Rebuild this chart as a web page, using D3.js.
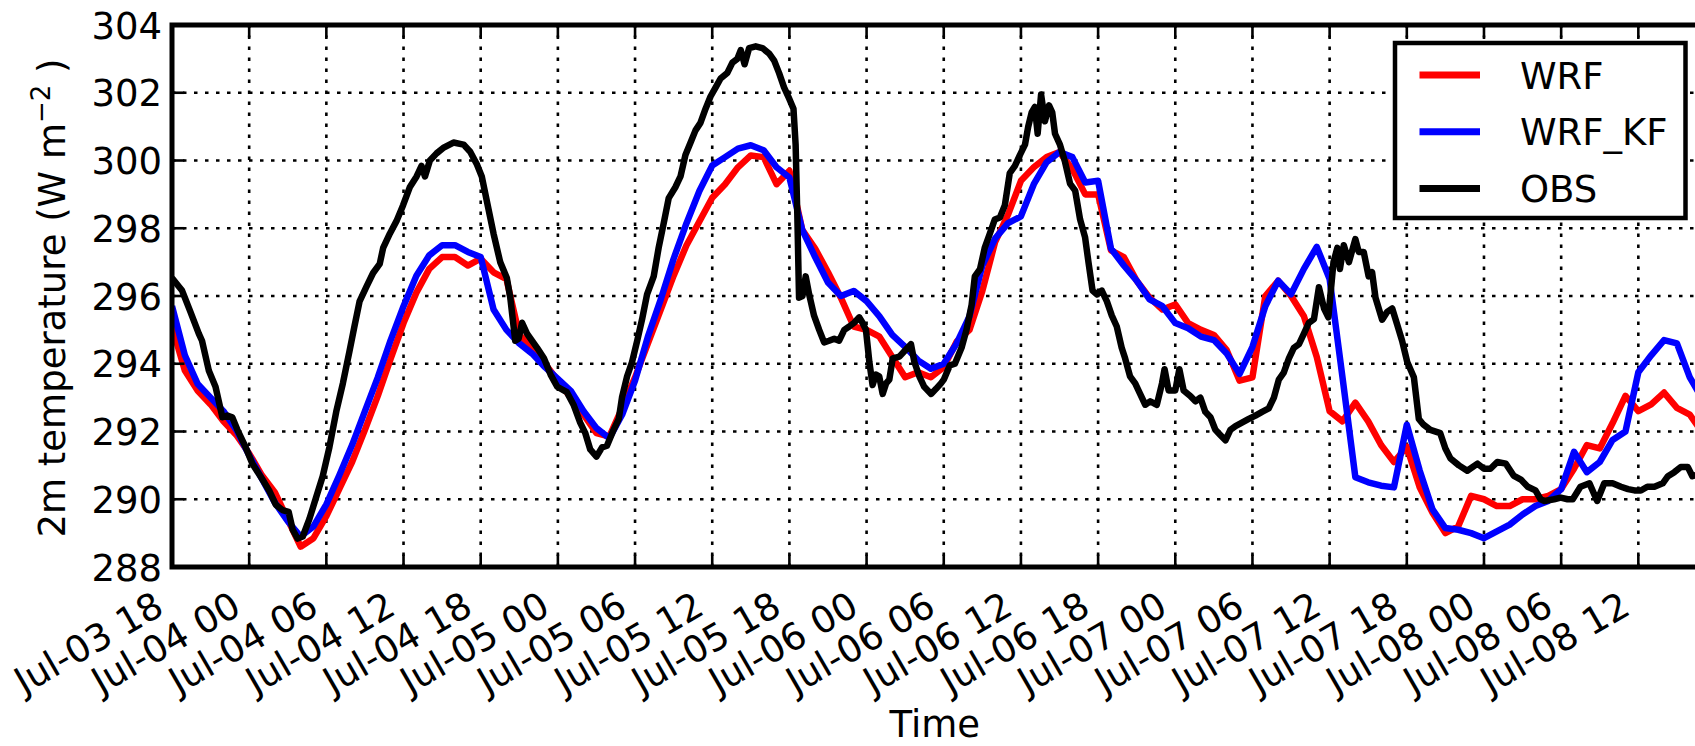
<!DOCTYPE html>
<html>
<head>
<meta charset="utf-8">
<script src="https://cdn.jsdelivr.net/npm/d3@7"></script>
<style>
  body { margin: 0; background: #fff; }
  svg { display: block; }
  text { font-family: 'DejaVu Sans', sans-serif; fill: #000; }
</style>
</head>
<body>
<div id="chart"></div>
<script>
// hourly model output, first value at Jul-03 18:00
var wrf = [
  295.1, 293.8, 293.2, 292.8, 292.3, 291.9, 291.35, 290.7, 290.2, 289.4,
  288.6, 288.85, 289.5, 290.3, 291.1, 292.05, 293.05, 294.15, 295.2, 296.1,
  296.8, 297.15, 297.15, 296.9, 297.1, 296.7, 296.5, 294.85, 294.5, 294.0,
  293.5, 293.0, 292.5, 291.95, 291.85, 292.7, 293.6, 294.6, 295.6, 296.6,
  297.5, 298.2, 298.9, 299.3, 299.8, 300.15, 300.1, 299.3, 299.7, 297.95,
  297.4, 296.7, 295.95, 295.1, 295.0, 294.8, 294.2, 293.6, 293.75, 293.6,
  293.9, 294.65, 295.0, 296.15, 297.6, 298.4, 299.4, 299.8, 300.1, 300.25,
  299.75, 299.0, 299.0, 297.35, 297.15, 296.45, 295.95, 295.6, 295.75, 295.2,
  295.0, 294.85, 294.4, 293.5, 293.6, 296.0, 296.45, 296.0, 295.4, 294.2,
  292.6, 292.3, 292.85, 292.3, 291.6, 291.1, 291.55, 290.35, 289.6, 289.0,
  289.2, 290.1, 290.0, 289.8, 289.8, 290.0, 290.0, 290.1, 290.3, 290.9,
  291.6, 291.5, 292.25, 293.05, 292.6, 292.8, 293.15, 292.7, 292.5, 291.95
];

var wrfKf = [
  295.7, 294.25, 293.4, 293.0, 292.6, 292.05, 291.3, 290.6, 289.9, 289.35,
  288.9, 289.2, 289.85, 290.7, 291.6, 292.6, 293.6, 294.7, 295.7, 296.6,
  297.2, 297.5, 297.5, 297.3, 297.15, 295.6, 295.0, 294.6, 294.3, 293.9,
  293.55, 293.2, 292.6, 292.1, 291.8, 292.5, 293.5, 294.8, 295.9, 297.1,
  298.15, 299.1, 299.85, 300.1, 300.35, 300.45, 300.3, 299.8, 299.5, 297.95,
  297.15, 296.4, 296.0, 296.15, 295.85, 295.4, 294.85, 294.5, 294.1, 293.85,
  294.0, 294.6, 295.4, 296.9, 297.7, 298.15, 298.35, 299.3, 299.95, 300.25,
  300.1, 299.35, 299.4, 297.4, 296.9, 296.45, 295.9, 295.7, 295.2, 295.05,
  294.8, 294.7, 294.3, 293.7, 294.5, 295.7, 296.45, 296.05, 296.8, 297.45,
  296.5, 293.6, 290.65, 290.5, 290.4, 290.35, 292.2, 290.85, 289.7, 289.15,
  289.1, 289.0, 288.85, 289.05, 289.25, 289.55, 289.8, 289.95, 290.3, 291.4,
  290.8, 291.1, 291.75, 292.0, 293.75, 294.25, 294.7, 294.6, 293.6, 292.95
];

// station record, [hours since Jul-03 18:00, value]
var obs = [
  [0, 296.53], [0.78, 296.16], [1.43, 295.53], [2.08, 294.89], [2.34, 294.68],
  [2.86, 293.79], [3.39, 293.32], [3.91, 292.42], [4.3, 292.47], [4.69, 292.42],
  [5.08, 292.05], [5.73, 291.53], [6.25, 291.05], [7.03, 290.58], [7.55, 290.26],
  [8.07, 289.84], [8.59, 289.68], [9.06, 289.63], [9.38, 289.1], [9.77, 288.84],
  [10.16, 288.9], [10.68, 289.42], [11.2, 290.05], [11.72, 290.68], [12.24, 291.53],
  [12.76, 292.58], [13.28, 293.42], [13.8, 294.37], [14.19, 295.1], [14.58, 295.84],
  [15.1, 296.26], [15.63, 296.68], [16.15, 296.95], [16.41, 297.42], [16.93, 297.84],
  [17.45, 298.21], [17.97, 298.68], [18.49, 299.21], [19.01, 299.53], [19.4, 299.84],
  [19.66, 299.53], [20.05, 300.0], [20.57, 300.21], [21.09, 300.37], [21.88, 300.53],
  [22.66, 300.47], [23.18, 300.26], [23.7, 299.89], [24.09, 299.53], [24.48, 298.79],
  [25.0, 297.84], [25.52, 297.0], [26.04, 296.53], [26.3, 295.95], [26.69, 294.68],
  [26.95, 294.74], [27.21, 295.21], [27.6, 294.89], [27.99, 294.68], [28.39, 294.47],
  [28.91, 294.16], [29.43, 293.68], [29.95, 293.32], [30.7, 293.16], [31.22, 292.79],
  [31.74, 292.26], [32.13, 291.95], [32.52, 291.47], [33.0, 291.26], [33.43, 291.53],
  [33.82, 291.58], [34.34, 292.05], [34.73, 292.37], [34.99, 293.0], [35.38, 293.63],
  [35.77, 294.05], [36.16, 294.68], [36.55, 295.32], [36.94, 296.05], [37.45, 296.58],
  [37.84, 297.42], [38.23, 298.16], [38.62, 298.89], [39.14, 299.21], [39.53, 299.53],
  [39.92, 300.16], [40.31, 300.53], [40.7, 300.89], [41.09, 301.11], [41.48, 301.53],
  [41.87, 301.89], [42.26, 302.16], [42.65, 302.42], [43.17, 302.58], [43.56, 302.89],
  [43.95, 303.0], [44.21, 303.26], [44.52, 302.84], [44.86, 303.32], [45.38, 303.37],
  [45.9, 303.32], [46.42, 303.16], [46.81, 302.95], [47.2, 302.58], [47.58, 302.16],
  [47.97, 301.84], [48.31, 301.53], [48.49, 300.47], [48.62, 298.37], [48.75, 295.95],
  [49.01, 296.0], [49.27, 296.58], [49.53, 296.05], [49.92, 295.42], [50.31, 295.0],
  [50.7, 294.63], [51.09, 294.68], [51.48, 294.74], [51.87, 294.68], [52.26, 295.0],
  [52.65, 295.1], [53.04, 295.21], [53.43, 295.37], [53.69, 295.21], [53.95, 295.0],
  [54.21, 294.05], [54.47, 293.37], [54.73, 293.68], [54.99, 293.63], [55.25, 293.11],
  [55.51, 293.42], [55.77, 293.53], [56.03, 294.16], [56.55, 294.21], [56.94, 294.37],
  [57.45, 294.58], [57.71, 294.05], [58.1, 293.63], [58.49, 293.32], [59.01, 293.11],
  [59.4, 293.26], [59.79, 293.42], [60.0, 293.53], [60.47, 293.95], [60.86, 294.0],
  [61.38, 294.47], [61.77, 295.0], [62.16, 295.74], [62.42, 296.58], [62.81, 296.79],
  [63.19, 297.42], [63.58, 297.84], [63.97, 298.26], [64.36, 298.32], [64.75, 298.68],
  [65.14, 299.63], [65.53, 299.84], [65.92, 300.16], [66.31, 300.47], [66.57, 301.0],
  [66.83, 301.42], [67.09, 301.58], [67.3, 300.79], [67.56, 301.95], [67.87, 301.16],
  [68.18, 301.63], [68.44, 301.42], [68.65, 300.79], [69.04, 300.47], [69.43, 299.95],
  [69.82, 299.32], [70.21, 299.11], [70.6, 298.26], [70.99, 297.74], [71.25, 297.0],
  [71.56, 296.16], [71.9, 296.05], [72.29, 296.16], [72.68, 295.84], [73.06, 295.42],
  [73.45, 295.1], [73.84, 294.47], [74.1, 294.16], [74.49, 293.63], [74.88, 293.42],
  [75.27, 293.11], [75.66, 292.79], [76.05, 292.89], [76.57, 292.79], [76.96, 293.42],
  [77.17, 293.84], [77.48, 293.21], [78.0, 293.21], [78.31, 293.84], [78.65, 293.21],
  [79.17, 293.05], [79.56, 292.89], [79.95, 293.0], [80.34, 292.58], [80.73, 292.42],
  [81.12, 292.05], [81.51, 291.89], [81.9, 291.74], [82.29, 292.05], [82.68, 292.16],
  [83.19, 292.26], [83.71, 292.37], [84.23, 292.47], [84.75, 292.58], [85.27, 292.68],
  [85.66, 293.0], [86.05, 293.53], [86.44, 293.74], [86.83, 294.16], [87.22, 294.47],
  [87.61, 294.58], [88.0, 294.89], [88.39, 295.21], [88.78, 295.32], [89.17, 296.26],
  [89.56, 295.63], [89.9, 295.37], [90.3, 297.0], [90.6, 297.42], [90.8, 296.8],
  [91.1, 297.5], [91.5, 297.0], [92.0, 297.68], [92.26, 297.3], [92.65, 297.3],
  [93.04, 296.58], [93.3, 296.7], [93.56, 295.95], [94.08, 295.3], [94.47, 295.53],
  [94.86, 295.63], [95.25, 295.16], [95.64, 294.68], [96.03, 294.05], [96.55, 293.6],
  [96.94, 292.37], [97.3, 292.2], [97.84, 292.05], [98.6, 291.95], [99.0, 291.5],
  [99.4, 291.2], [100.05, 291.0], [100.7, 290.84], [101.5, 291.05], [102.0, 290.9],
  [102.5, 290.9], [103.04, 291.1], [103.7, 291.05], [104.3, 290.7], [104.86, 290.58],
  [105.4, 290.37], [106.0, 290.26], [106.4, 290.0], [106.7, 289.95], [107.45, 290.0],
  [107.97, 290.05], [108.5, 290.0], [108.9, 290.0], [109.5, 290.37], [110.2, 290.47],
  [110.8, 289.95], [111.35, 290.47], [112.0, 290.47], [112.65, 290.37], [113.2, 290.3],
  [113.7, 290.26], [114.2, 290.26], [114.7, 290.37], [115.25, 290.37], [115.9, 290.47],
  [116.3, 290.68], [116.8, 290.8], [117.3, 290.95], [117.85, 290.95], [118.2, 290.68],
  [118.75, 290.74]
];

var yTicks = [288, 290, 292, 294, 296, 298, 300, 302, 304];
var seriesNames = ['WRF', 'WRF_KF', 'OBS'];
var seriesColors = ['#ff0000', '#0000ff', '#000000'];

var startTime = new Date(2015, 6, 3, 18);
var endHours = 118.6;

var width = 1695, height = 746;
var plot = { left: 172, top: 25, right: 1697.5, bottom: 567 };
var fontSize = 37;

var svg = d3.select('#chart').append('svg')
  .attr('width', width)
  .attr('height', height);

var x = d3.scaleTime()
  .domain([startTime, d3.timeMinute.offset(startTime, endHours * 60)])
  .range([plot.left, plot.right]);

var y = d3.scaleLinear()
  .domain([288, 304])
  .range([plot.bottom, plot.top]);

var xTicks = x.ticks(d3.timeHour.every(6));
var fmt = d3.timeFormat('%b-%d %H');

function at(h) { return d3.timeMinute.offset(startTime, Math.round(h * 60)); }

// grid
var grid = svg.append('g')
  .attr('stroke', '#000')
  .attr('stroke-width', 2.6)
  .attr('stroke-dasharray', '3.5,7.5');

grid.selectAll('.vgrid')
  .data(xTicks)
  .enter().append('line')
  .attr('x1', function(d) { return x(d); })
  .attr('x2', function(d) { return x(d); })
  .attr('y1', plot.bottom)
  .attr('y2', plot.top);

grid.selectAll('.hgrid')
  .data(yTicks)
  .enter().append('line')
  .attr('x1', plot.left)
  .attr('x2', plot.right)
  .attr('y1', function(d) { return y(d); })
  .attr('y2', function(d) { return y(d); });

// series
svg.append('clipPath').attr('id', 'clip')
  .append('rect')
  .attr('x', plot.left).attr('y', plot.top)
  .attr('width', plot.right - plot.left)
  .attr('height', plot.bottom - plot.top);

var series = [
  wrf.map(function(v, i) { return [at(i), v]; }),
  wrfKf.map(function(v, i) { return [at(i), v]; }),
  obs.map(function(d) { return [at(d[0]), d[1]]; })
];

var line = d3.line()
  .x(function(d) { return x(d[0]); })
  .y(function(d) { return y(d[1]); });

svg.append('g')
  .attr('clip-path', 'url(#clip)')
  .selectAll('path')
  .data(series)
  .enter().append('path')
  .attr('d', line)
  .attr('fill', 'none')
  .attr('stroke', function(d, i) { return seriesColors[i]; })
  .attr('stroke-width', 6.5)
  .attr('stroke-linejoin', 'round');

// ticks, pointing inward
var tickLen = 12.5;
var ticks = svg.append('g').attr('stroke', '#000').attr('stroke-width', 2.6);

xTicks.forEach(function(d) {
  ticks.append('line')
    .attr('x1', x(d)).attr('x2', x(d))
    .attr('y1', plot.bottom).attr('y2', plot.bottom - tickLen);
  ticks.append('line')
    .attr('x1', x(d)).attr('x2', x(d))
    .attr('y1', plot.top).attr('y2', plot.top + tickLen);
});
yTicks.forEach(function(d) {
  ticks.append('line')
    .attr('x1', plot.left).attr('x2', plot.left + tickLen)
    .attr('y1', y(d)).attr('y2', y(d));
});

// spines
svg.append('path')
  .attr('d', 'M' + plot.left + ',' + plot.bottom + 'V' + plot.top + 'H' + plot.right +
    'M' + plot.left + ',' + plot.bottom + 'H' + plot.right)
  .attr('fill', 'none')
  .attr('stroke', '#000')
  .attr('stroke-width', 5)
  .attr('stroke-linecap', 'square');

// tick labels
svg.append('g').selectAll('text')
  .data(yTicks)
  .enter().append('text')
  .attr('x', plot.left - 10)
  .attr('y', function(d) { return y(d) + 13.5; })
  .attr('text-anchor', 'end')
  .attr('font-size', fontSize)
  .text(function(d) { return d; });

svg.append('g').selectAll('text')
  .data(xTicks)
  .enter().append('text')
  .attr('transform', function(d) {
    return 'translate(' + (x(d) - 6) + ',' + (plot.bottom + 46) + ') rotate(-30)';
  })
  .attr('text-anchor', 'end')
  .attr('font-size', fontSize)
  .text(fmt);

// axis titles
svg.append('text')
  .attr('x', (plot.left + plot.right) / 2)
  .attr('y', 737)
  .attr('text-anchor', 'middle')
  .attr('font-size', fontSize)
  .text('Time');

var ylab = svg.append('text')
  .attr('transform', 'translate(65,298) rotate(-90)')
  .attr('text-anchor', 'middle')
  .attr('font-size', fontSize);
ylab.append('tspan').text('2m temperature (W m');
ylab.append('tspan').attr('font-size', 26).attr('dy', -15).text('\u22122');
ylab.append('tspan').attr('dy', 15).text(' )');

// legend
var legend = svg.append('g').attr('transform', 'translate(1395,43)');
legend.append('rect')
  .attr('width', 290.5)
  .attr('height', 175)
  .attr('fill', '#fff')
  .attr('stroke', '#000')
  .attr('stroke-width', 4.5);

var rows = legend.selectAll('.row')
  .data(seriesNames)
  .enter().append('g')
  .attr('transform', function(d, i) { return 'translate(0,' + (32 + i * 56.7) + ')'; });

rows.append('line')
  .attr('x1', 24.5).attr('x2', 85)
  .attr('stroke', function(d, i) { return seriesColors[i]; })
  .attr('stroke-width', 7);

rows.append('text')
  .attr('x', 125)
  .attr('y', 13.5)
  .attr('font-size', fontSize)
  .text(function(d) { return d; });
</script>
</body>
</html>
